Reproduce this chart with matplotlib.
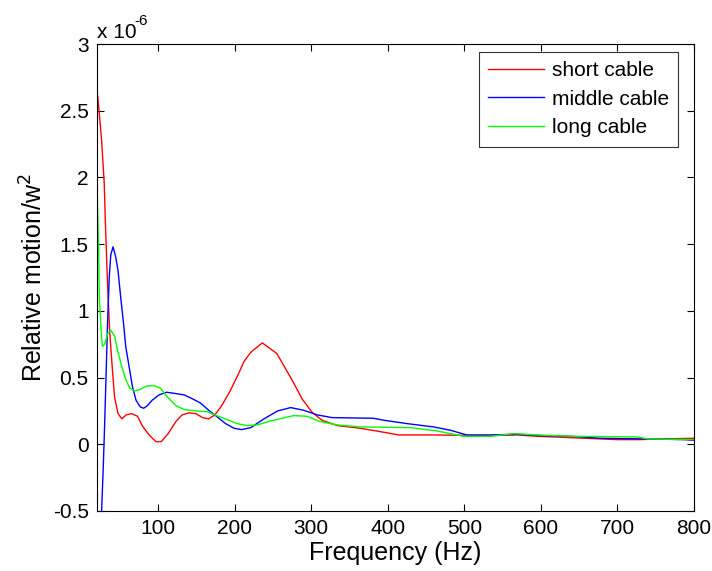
import matplotlib
matplotlib.use("Agg")
import matplotlib.pyplot as plt
import numpy as np

plt.rcParams['font.family'] = ['Liberation Sans', 'DejaVu Sans']

# values in units of 1e-6
short_f = [20, 21, 26, 29.5, 31, 33.6, 36.5, 39.6, 43, 47.5, 52.5, 58, 65, 73, 79, 88, 97, 104, 113, 123, 131,
           140, 149, 158, 166, 174, 183, 194, 205, 212, 221, 236, 255, 275, 288, 301, 314, 334, 364, 395, 414,
           460, 534, 569, 595, 638, 699, 728, 760, 800]
short_v = [2.62, 2.61, 2.28, 1.95, 1.65, 1.23, 0.85, 0.60, 0.35, 0.23, 0.19, 0.22, 0.23, 0.21, 0.14, 0.07, 0.02,
           0.02, 0.08, 0.17, 0.22, 0.235, 0.23, 0.20, 0.19, 0.22, 0.29, 0.40, 0.53, 0.62, 0.69, 0.76, 0.68, 0.48,
           0.34, 0.24, 0.18, 0.14, 0.12, 0.09, 0.07, 0.07, 0.065, 0.07, 0.06, 0.05, 0.035, 0.035, 0.04, 0.045]

middle_f = [20, 24, 26, 28, 30, 32, 34, 36, 38, 41, 44.6, 47.5, 51, 54.6, 57.6, 62, 66.4, 71, 76.5, 81, 86, 92,
            101, 111, 123, 134, 145, 155, 166, 177, 188, 199, 209, 221, 238, 256, 273, 290, 308, 327, 381, 395,
            425, 460, 482, 503, 534, 569, 600, 640, 678, 740, 786, 800]
middle_v = [-1.5, -0.9, -0.5, -0.2, 0.15, 0.55, 0.95, 1.25, 1.42, 1.48, 1.40, 1.30, 1.10, 0.91, 0.73, 0.58, 0.43,
            0.33, 0.28, 0.27, 0.29, 0.33, 0.37, 0.39, 0.38, 0.37, 0.34, 0.31, 0.255, 0.205, 0.155, 0.12, 0.11,
            0.125, 0.19, 0.25, 0.275, 0.255, 0.22, 0.20, 0.195, 0.18, 0.155, 0.13, 0.105, 0.07, 0.07, 0.075,
            0.065, 0.06, 0.045, 0.04, 0.035, 0.03]

long_f = [20, 22, 23, 25.5, 27, 30, 34, 38, 43, 47, 52.5, 58, 63, 68.5, 76, 84, 94.5, 103, 112, 123, 134, 149,
          164, 174, 190, 203, 216, 229, 247, 277, 294, 312, 334, 364, 429, 464, 499, 534, 565, 595, 640, 726,
          740, 800]
long_v = [1.95, 1.50, 1.10, 0.85, 0.735, 0.75, 0.83, 0.855, 0.81, 0.70, 0.58, 0.48, 0.42, 0.40, 0.41, 0.435,
          0.44, 0.42, 0.355, 0.29, 0.26, 0.25, 0.245, 0.22, 0.185, 0.155, 0.14, 0.145, 0.175, 0.215, 0.21, 0.17,
          0.145, 0.13, 0.125, 0.10, 0.06, 0.06, 0.08, 0.07, 0.06, 0.055, 0.04, 0.035]

xticks = [100, 200, 300, 400, 500, 600, 700, 800]
yticks = [-0.5, 0, 0.5, 1, 1.5, 2, 2.5, 3]
ytick_labels = ['-0.5', '0', '0.5', '1', '1.5', '2', '2.5', '3']

fig = plt.figure(figsize=(7.12, 5.71), dpi=100)
ax = fig.add_axes([97/712, 1 - 511/571, (694 - 97)/712, (511 - 44)/571])

ax.plot(short_f, short_v, color='#ff0000', lw=1.0, label='short cable')
ax.plot(middle_f, middle_v, color='#0000ff', lw=1.0, label='middle cable')
ax.plot(long_f, long_v, color='#00ff00', lw=1.0, label='long cable')

ax.set_xlim(20, 800)
ax.set_ylim(-0.5, 3)
ax.set_xticks(xticks)
ax.set_yticks(yticks)
ax.set_yticklabels(ytick_labels)
ax.tick_params(direction='in', length=5, width=0.8, top=True, right=True, labelsize=15, pad=6)
for s in ax.spines.values():
    s.set_linewidth(0.8)

ax.set_xlabel('Frequency (Hz)', fontsize=18, labelpad=2)
ax.set_ylabel('Relative motion/w$^2$', fontsize=18, labelpad=4)
ax.text(0.0, 1.005, 'x 10', transform=ax.transAxes, fontsize=15, ha='left', va='bottom')
ax.text(0.062, 1.035, '-6', transform=ax.transAxes, fontsize=11, ha='left', va='bottom')

leg = ax.legend(loc='upper right', bbox_to_anchor=(678/712, 1 - 52/571), bbox_transform=fig.transFigure,
                fontsize=15, frameon=True, fancybox=False, edgecolor='black',
                handlelength=2.7, borderaxespad=0.0, labelspacing=0.45, handletextpad=0.35, borderpad=0.45)
leg.get_frame().set_linewidth(0.8)

fig.savefig('out.png', dpi=100)
